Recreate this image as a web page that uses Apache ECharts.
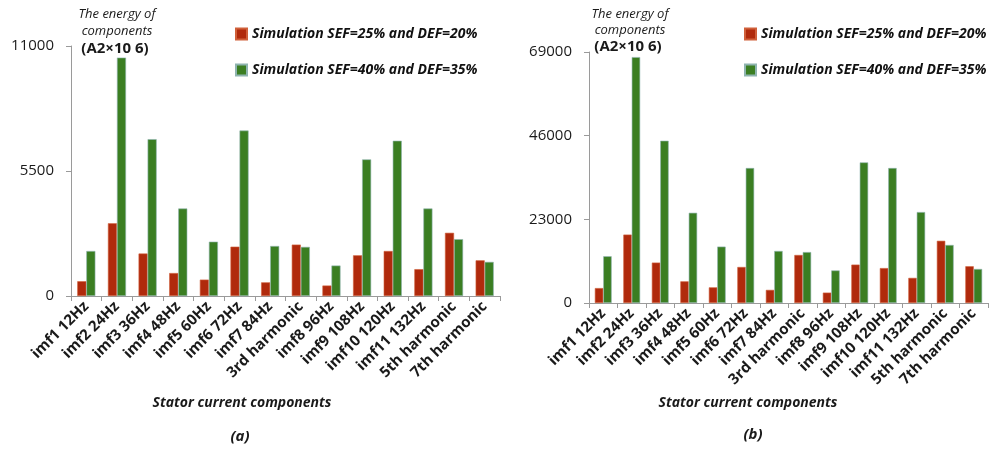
<!DOCTYPE html>
<html>
<head>
<meta charset="utf-8">
<script src="https://cdn.jsdelivr.net/npm/echarts@6/dist/echarts.min.js"></script>
<style>
  html, body { margin: 0; padding: 0; background: #fff; }
  #chart { width: 992px; height: 456px; }
</style>
</head>
<body>
<div id="chart"></div>
<script>
// Stator current components (shared by both panels)
const categories = ['imf1 12Hz', 'imf2 24Hz', 'imf3 36Hz', 'imf4 48Hz', 'imf5 60Hz', 'imf6 72Hz',
  'imf7 84Hz', '3rd harmonic', 'imf8 96Hz', 'imf9 108Hz', 'imf10 120Hz', 'imf11 132Hz',
  '5th harmonic', '7th harmonic'];

const seriesNames = ['Simulation SEF=25% and DEF=20%', 'Simulation SEF=40% and DEF=35%'];

// Panel (a) energies
const energyA_low = [650, 3200, 1870, 1010, 720, 2170, 600, 2260, 460, 1790, 1980, 1180, 2780, 1570];
const energyA_high = [1980, 10490, 6900, 3850, 2390, 7280, 2200, 2160, 1340, 6010, 6830, 3850, 2500, 1500];

// Panel (b) energies
const energyB_low = [4100, 18800, 11100, 5950, 4300, 9900, 3600, 13200, 2850, 10550, 9600, 6900, 17100, 10100];
const energyB_high = [12850, 67600, 44600, 24800, 15500, 37100, 14300, 14000, 8950, 38650, 37100, 25000, 15950, 9350];

// Y axis ticks
const yTicksA = [0, 5500, 11000];
const yTicksB = [0, 23000, 46000, 69000];

const RED = '#b02a0c';
const GREEN = '#3b7e22';
const FONT = 'Open Sans';

const chart = echarts.init(document.getElementById('chart'), null, { renderer: 'canvas' });

function xAxisFor(gridIndex) {
  return {
    type: 'category',
    gridIndex: gridIndex,
    data: categories,
    axisLine: { lineStyle: { color: '#9a9a9a', width: 1 } },
    axisTick: { show: true, length: 5, lineStyle: { color: '#9a9a9a' } },
    axisLabel: {
      interval: 0, rotate: 45, margin: 8,
      fontFamily: FONT, fontSize: 15, fontWeight: 'bold', color: '#1a1a1a'
    }
  };
}

function yAxisFor(gridIndex, ticks) {
  return {
    type: 'value',
    gridIndex: gridIndex,
    min: ticks[0],
    max: ticks[ticks.length - 1],
    interval: ticks[1] - ticks[0],
    splitLine: { show: false },
    axisLine: { show: true, lineStyle: { color: '#9a9a9a', width: 1 } },
    axisTick: { show: true, length: 5, lineStyle: { color: '#9a9a9a' } },
    axisLabel: {
      margin: 17, fontFamily: FONT, fontSize: 15, color: '#1a1a1a',
      formatter: (v) => String(v)
    }
  };
}

function barSeries(name, color, border, xi, data) {
  return {
    name: name,
    type: 'bar',
    xAxisIndex: xi,
    yAxisIndex: xi,
    data: data,
    barGap: '0%',
    barCategoryGap: '41%',
    itemStyle: { color: color, borderColor: border, borderWidth: 0.6 },
    emphasis: { disabled: true }
  };
}

function legendFor(left) {
  return {
    left: left, top: 22,
    orient: 'vertical',
    itemWidth: 11, itemHeight: 11, itemGap: 22,
    icon: 'rect',
    data: seriesNames,
    textStyle: { fontFamily: FONT, fontSize: 14, fontWeight: 'bold', fontStyle: 'italic', color: '#111' }
  };
}

function label(text, x, y, font) {
  return {
    type: 'text', x: x, y: y,
    style: { text: text, font: font, fill: '#1a1a1a', align: 'center', verticalAlign: 'middle' }
  };
}

const option = {
  backgroundColor: '#ffffff',
  animation: false,
  grid: [
    { left: 71, right: 492, top: 46, bottom: 160, containLabel: false },
    { left: 589, right: 4, top: 52, bottom: 153, containLabel: false }
  ],
  legend: [legendFor(230), legendFor(739)],
  xAxis: [xAxisFor(0), xAxisFor(1)],
  yAxis: [yAxisFor(0, yTicksA), yAxisFor(1, yTicksB)],
  series: [
    barSeries(seriesNames[0], RED, '#d0603a', 0, energyA_low),
    barSeries(seriesNames[1], GREEN, '#8fb4b0', 0, energyA_high),
    barSeries(seriesNames[0], RED, '#d0603a', 1, energyB_low),
    barSeries(seriesNames[1], GREEN, '#8fb4b0', 1, energyB_high)
  ],
  graphic: [
    // Panel (a) headings
    label('The energy of', 117, 14, 'italic 13px "Open Sans"'),
    label('components', 117, 31, 'italic 13px "Open Sans"'),
    label('(A2×10 6)', 115, 49, 'bold 15px "Open Sans"'),
    label('Stator current components', 242, 403, 'italic bold 14px "Open Sans"'),
    label('(a)', 240, 437, 'italic bold 15px "Open Sans"'),
    // Panel (b) headings
    label('The energy of', 630, 14, 'italic 13px "Open Sans"'),
    label('components', 630, 30, 'italic 13px "Open Sans"'),
    label('(A2×10 6)', 628, 47, 'bold 15px "Open Sans"'),
    label('Stator current components', 748, 403, 'italic bold 14px "Open Sans"'),
    label('(b)', 753, 435, 'italic bold 15px "Open Sans"')
  ]
};

chart.setOption(option);
</script>
</body>
</html>
